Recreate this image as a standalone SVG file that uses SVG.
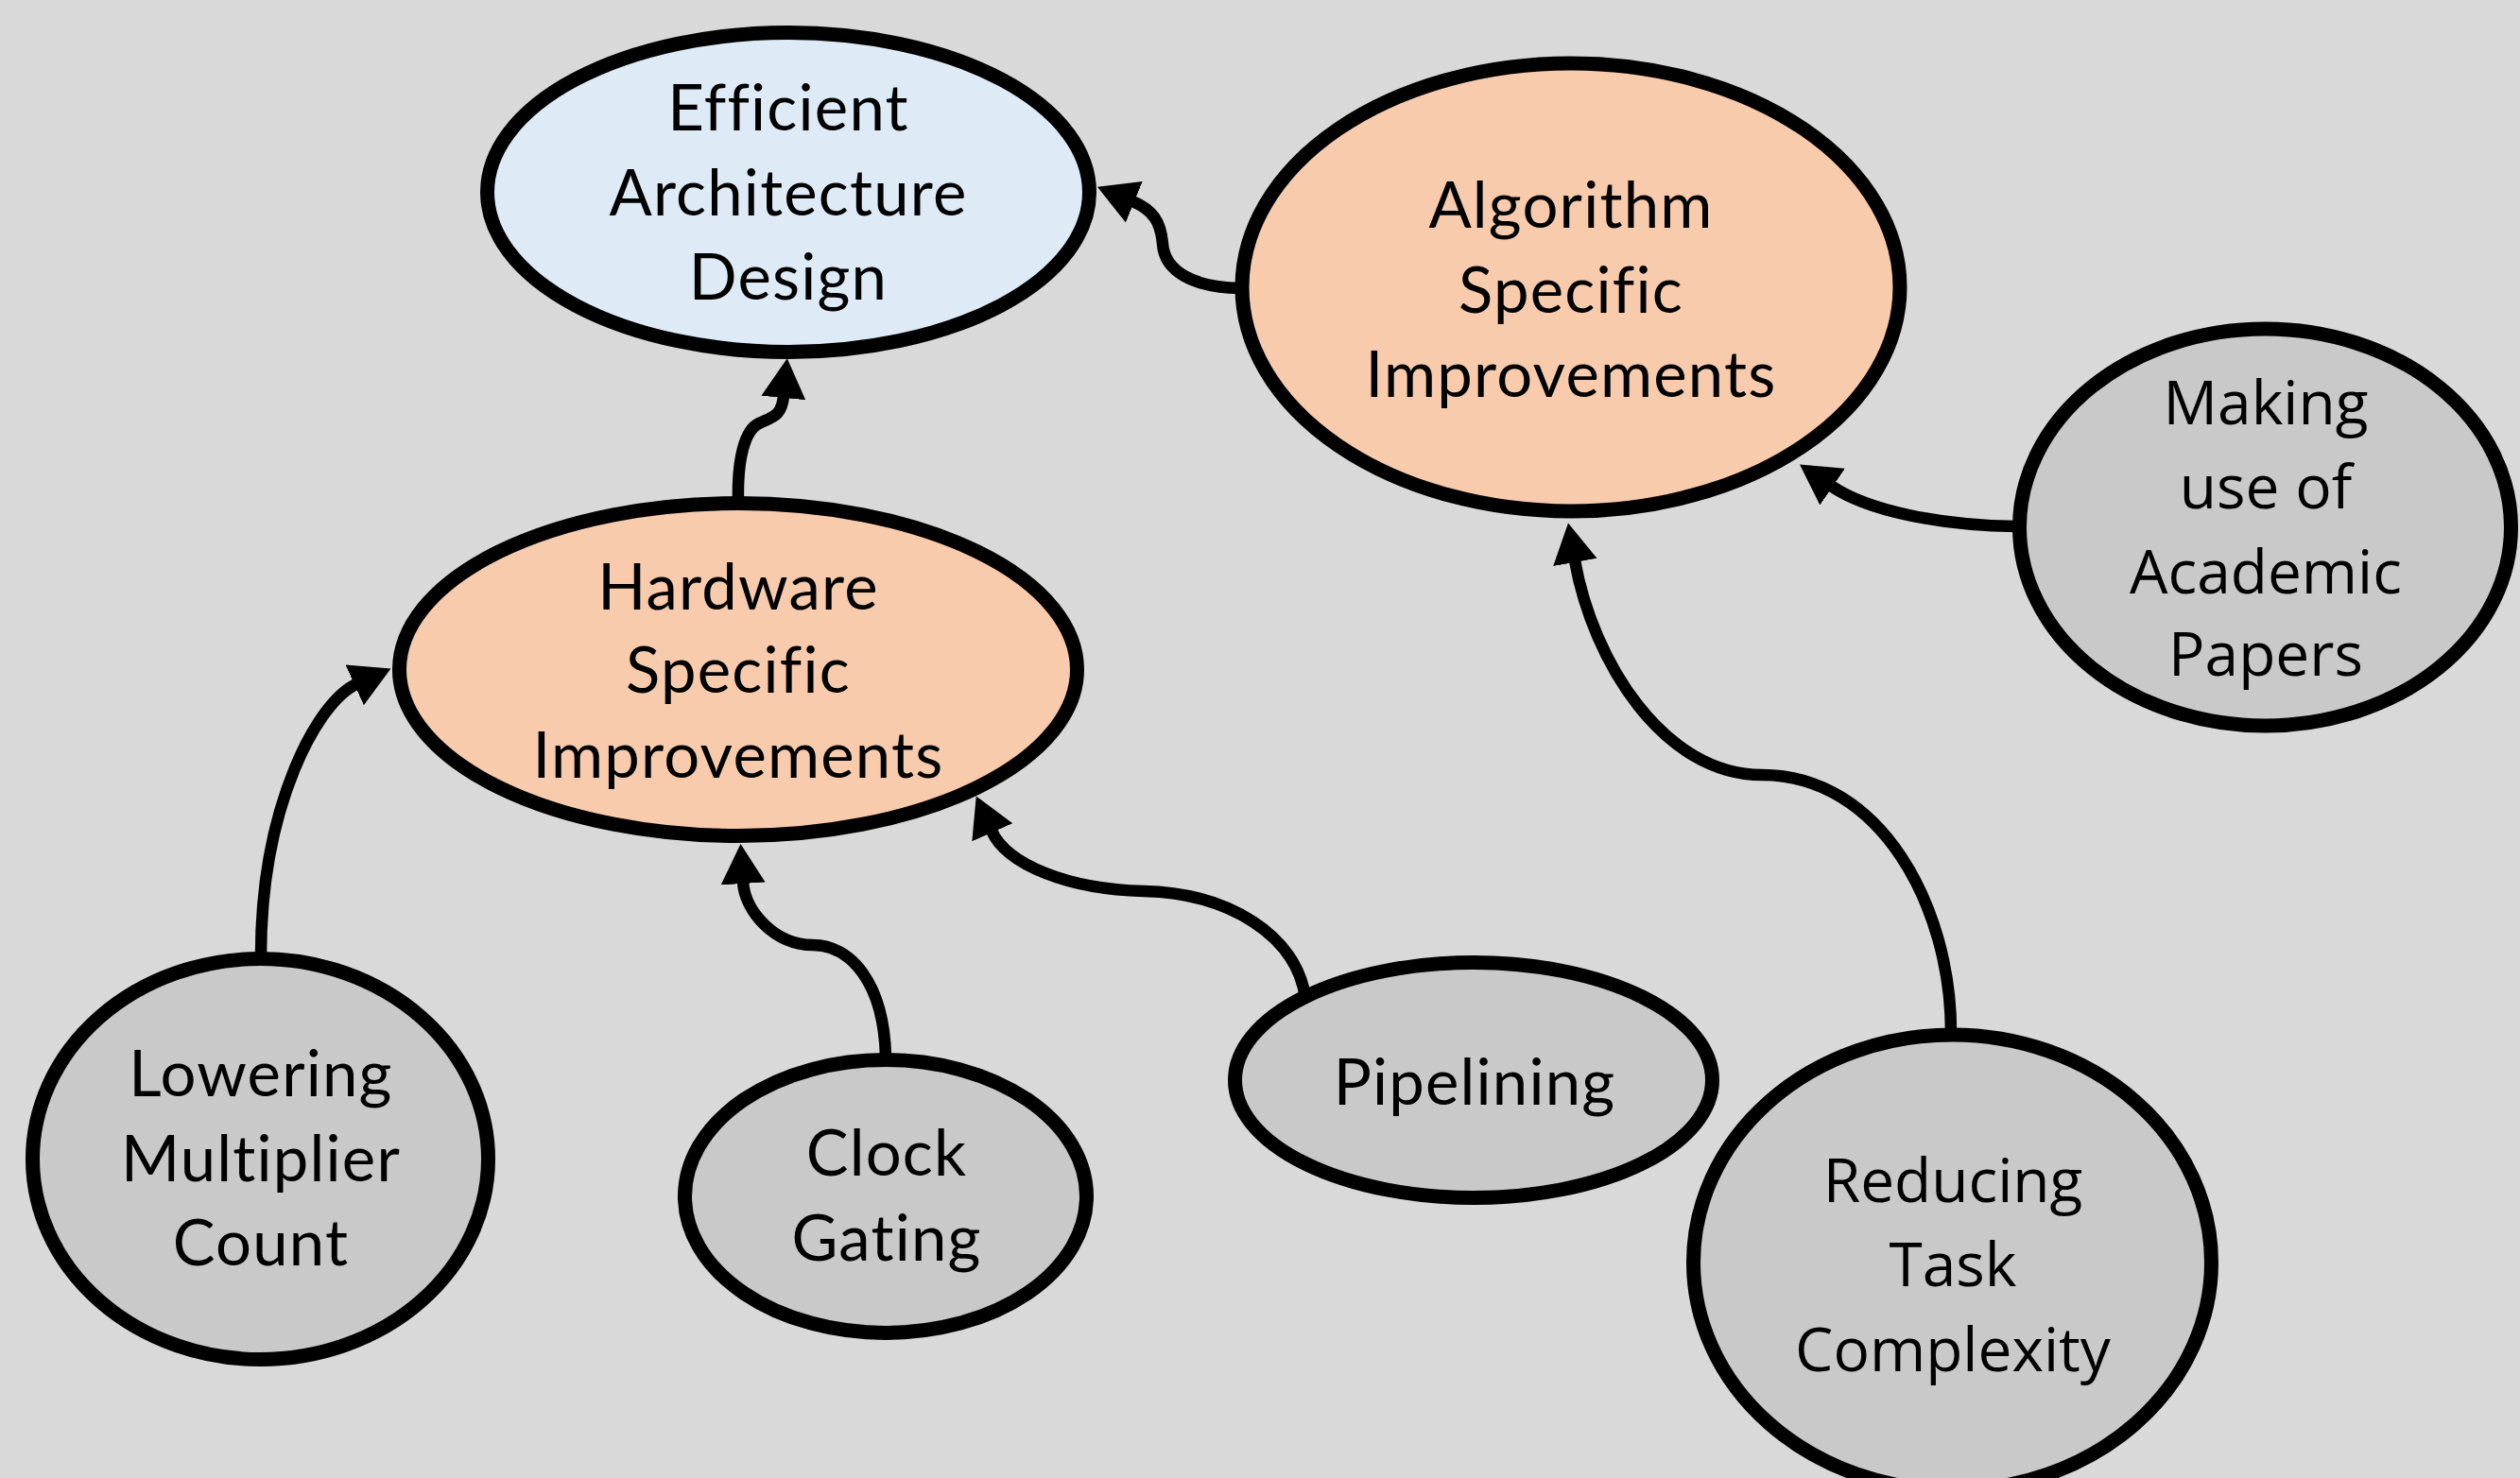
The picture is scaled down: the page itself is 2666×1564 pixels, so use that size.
<svg xmlns="http://www.w3.org/2000/svg" width="2666" height="1564" viewBox="0 0 2666 1564">
  <defs>
    <marker id="arrow" markerUnits="userSpaceOnUse" markerWidth="44" markerHeight="50" viewBox="-2 -25 44 50" refX="0" refY="0" orient="auto">
      <path d="M-2,-23.5 L40,0 L-2,23.5 Z" fill="#000"/>
    </marker>
    <style>
      .node { stroke: #000; stroke-width: 15; }
      .blue { fill: #DEEBF7; }
      .orange { fill: #F8CBAD; }
      .gray { fill: #C9C9C9; }
      .conn { fill: none; stroke: #000; stroke-width: 12.5; marker-end: url(#arrow); }
      .t1 { font-family: Lato, "Liberation Sans", sans-serif; font-size: 67px; letter-spacing: 1.2px; font-variant-ligatures: none; fill: #000; text-anchor: middle; }
      .t2 { font-family: "Open Sans", "Liberation Sans", sans-serif; font-size: 64px; font-variant-ligatures: none; fill: #000; text-anchor: middle; }
    </style>
  </defs>
  <rect x="0" y="0" width="2666" height="1564" fill="#D9D9D9"/>

  <g id="connectors">
    <path class="conn" d="M 781 530 C 780 485, 788 455, 803 448 C 818 441, 827 440, 829 419"/>
    <path class="conn" d="M 1312 305 C 1262 304, 1232 287, 1230 258 C 1228 235, 1220 222, 1198 213"/>
    <path class="conn" d="M 276 1012 C 276 850, 337 742, 377 724"/>
    <path class="conn" d="M 937 1118 C 935 1040, 900 1000, 860 1000 C 820 1000, 788 965, 786 933"/>
    <path class="conn" d="M 1381 1056 C 1372 990, 1300 945, 1210 943 C 1130 941, 1065 915, 1049 879"/>
    <path class="conn" d="M 2064 1092 C 2064 960, 1990 820, 1864 820 C 1760 820, 1685 700, 1666 593"/>
    <path class="conn" d="M 2134 557 C 2050 556, 1975 540, 1937 514"/>
  </g>

  <g id="node-efficient-architecture">
    <ellipse class="node blue" cx="834" cy="203.5" rx="318.5" ry="169"/>
    <text class="t1" x="834" y="138">Efficient</text>
    <text class="t1" x="834" y="228">Architecture</text>
    <text class="t1" x="834" y="317">Design</text>
  </g>

  <g id="node-algorithm-specific">
    <ellipse class="node orange" cx="1662" cy="304" rx="348" ry="237"/>
    <text class="t1" x="1662" y="241">Algorithm</text>
    <text class="t1" x="1662" y="331">Specific</text>
    <text class="t1" x="1662" y="420">Improvements</text>
  </g>

  <g id="node-hardware-specific">
    <ellipse class="node orange" cx="781" cy="708.5" rx="358.5" ry="176"/>
    <text class="t1" x="781" y="645">Hardware</text>
    <text class="t1" x="781" y="733">Specific</text>
    <text class="t1" x="781" y="823">Improvements</text>
  </g>

  <g id="node-lowering-multiplier">
    <ellipse class="node gray" cx="275.5" cy="1226.5" rx="241" ry="212"/>
    <text class="t1" x="276" y="1160">Lowering</text>
    <text class="t1" x="276" y="1250">Multiplier</text>
    <text class="t1" x="276" y="1339">Count</text>
  </g>

  <g id="node-clock-gating">
    <ellipse class="node gray" cx="937" cy="1266" rx="212.5" ry="144.5"/>
    <text class="t1" x="938" y="1244">Clock</text>
    <text class="t1" x="938" y="1334">Gating</text>
  </g>

  <g id="node-pipelining">
    <ellipse class="node gray" cx="1559" cy="1143" rx="252.5" ry="124.5"/>
    <text class="t1" x="1560" y="1169">Pipelining</text>
  </g>

  <g id="node-academic-papers">
    <ellipse class="node gray" cx="2396.5" cy="558" rx="260" ry="210"/>
    <text class="t2" x="2397" y="449">Making</text>
    <text class="t2" x="2397" y="538">use of</text>
    <text class="t2" x="2397" y="628">Academic</text>
    <text class="t2" x="2397" y="715">Papers</text>
  </g>

  <g id="node-reducing-complexity">
    <ellipse class="node gray" cx="2065.5" cy="1336" rx="274" ry="241"/>
    <text class="t2" x="2066" y="1272">Reducing</text>
    <text class="t2" x="2066" y="1361">Task</text>
    <text class="t2" x="2066" y="1451">Complexity</text>
  </g>
</svg>
